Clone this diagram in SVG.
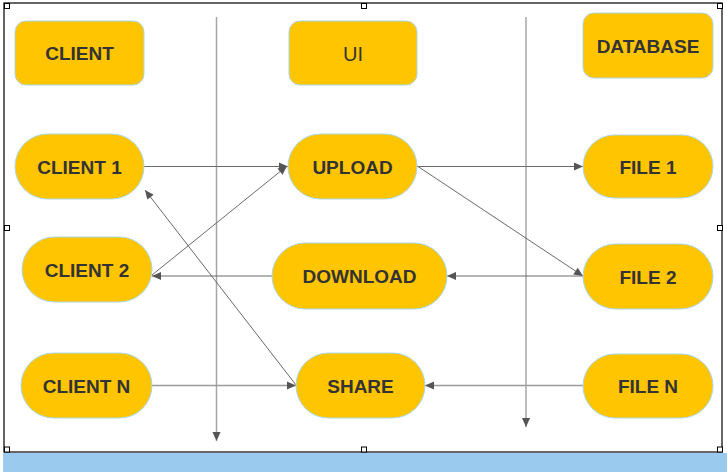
<svg xmlns="http://www.w3.org/2000/svg" width="727" height="472" viewBox="0 0 727 472">
  <style>
    .node { fill: #FFC500; stroke: #A9D8EC; stroke-width: 1; }
    .lbl { font-family: "Liberation Sans", Arial, sans-serif; font-size: 19px; font-weight: bold; fill: #333333; text-anchor: middle; }
    .lbl-n { font-family: "Liberation Sans", Arial, sans-serif; font-size: 20px; fill: #333333; text-anchor: middle; }
    .edge { fill: none; stroke: #6a6a6a; stroke-width: 1; }
    .edge-l { fill: none; stroke: #9a9a9a; stroke-width: 1.5; }
    .lane { fill: none; stroke: #a6a6a6; stroke-width: 1.5; }
    .handle { fill: #ffffff; stroke: #000000; stroke-width: 1; }
  </style>
  <defs>
    <marker id="arr" viewBox="0 0 10 10" refX="10" refY="5" markerWidth="10" markerHeight="9" markerUnits="userSpaceOnUse" orient="auto">
      <path d="M0,0.5 L10,5 L0,9.5 Z" fill="#555555"/>
    </marker>
  </defs>

  <!-- page background and frame -->
  <rect x="0" y="0" width="727" height="472" fill="#ffffff"/>
  <rect x="3" y="453" width="724" height="19" fill="#9ACBEE"/>
  <rect x="4" y="3" width="718" height="449" fill="none" stroke="#000000" stroke-width="1.2"/>

  <!-- swimlane dividers and connectors -->
  <g id="connectors">
    <line class="lane" x1="216.5" y1="17" x2="216.5" y2="441" marker-end="url(#arr)"/>
    <line class="lane" x1="526" y1="17" x2="526" y2="427" marker-end="url(#arr)"/>

    <line class="edge" x1="144" y1="166.5" x2="288" y2="166.5" marker-end="url(#arr)"/>
    <line class="edge" x1="152" y1="275" x2="287" y2="166" marker-end="url(#arr)"/>
    <line class="edge" x1="296" y1="385" x2="145" y2="190" marker-end="url(#arr)"/>
    <line class="edge" x1="272" y1="276" x2="152" y2="276" marker-end="url(#arr)"/>
    <line class="edge-l" x1="152" y1="385.5" x2="296" y2="385.5" marker-end="url(#arr)"/>

    <line class="edge" x1="417" y1="166.5" x2="583" y2="166.5" marker-end="url(#arr)"/>
    <line class="edge" x1="418" y1="166.5" x2="583" y2="276" marker-end="url(#arr)"/>
    <line class="edge" x1="583" y1="276" x2="447" y2="276" marker-end="url(#arr)"/>
    <line class="edge-l" x1="583" y1="385.5" x2="425" y2="385.5" marker-end="url(#arr)"/>
  </g>

  <!-- column headers -->
  <g id="client">
    <rect class="node" x="15" y="21" width="129" height="64" rx="11"/>
    <text class="lbl" x="79.5" y="60">CLIENT</text>
  </g>
  <g id="ui">
    <rect class="node" x="289" y="21" width="128" height="64" rx="11"/>
    <text class="lbl-n" x="353" y="60.5">UI</text>
  </g>
  <g id="database">
    <rect class="node" x="583" y="13" width="130" height="65" rx="11"/>
    <text class="lbl" x="648" y="53">DATABASE</text>
  </g>

  <!-- clients -->
  <g id="client1">
    <rect class="node" x="15" y="134" width="129" height="65" rx="32.5"/>
    <text class="lbl" x="79.5" y="173.5">CLIENT 1</text>
  </g>
  <g id="client2">
    <rect class="node" x="22" y="237" width="130" height="65" rx="32.5"/>
    <text class="lbl" x="87" y="276.5">CLIENT 2</text>
  </g>
  <g id="clientN">
    <rect class="node" x="21" y="353" width="131" height="65" rx="32.5"/>
    <text class="lbl" x="86.5" y="392.5">CLIENT N</text>
  </g>

  <!-- UI actions -->
  <g id="upload">
    <rect class="node" x="288" y="134" width="129" height="65" rx="32.5"/>
    <text class="lbl" x="352.5" y="173.5">UPLOAD</text>
  </g>
  <g id="download">
    <rect class="node" x="272" y="243" width="175" height="66" rx="33"/>
    <text class="lbl" x="359.5" y="283">DOWNLOAD</text>
  </g>
  <g id="share">
    <rect class="node" x="296" y="353" width="129" height="65" rx="32.5"/>
    <text class="lbl" x="360.5" y="392.5">SHARE</text>
  </g>

  <!-- files -->
  <g id="file1">
    <rect class="node" x="583" y="135" width="130" height="63" rx="31.5"/>
    <text class="lbl" x="648" y="173.5">FILE 1</text>
  </g>
  <g id="file2">
    <rect class="node" x="583" y="244" width="130" height="65" rx="32.5"/>
    <text class="lbl" x="648" y="283.5">FILE 2</text>
  </g>
  <g id="fileN">
    <rect class="node" x="583" y="354" width="130" height="64" rx="32"/>
    <text class="lbl" x="648" y="393">FILE N</text>
  </g>

  <!-- selection handles -->
  <g id="handles">
    <rect class="handle" x="4.5" y="3.5" width="5" height="5"/>
    <rect class="handle" x="361.5" y="3.5" width="5" height="5"/>
    <rect class="handle" x="717.5" y="3.5" width="5" height="5"/>
    <rect class="handle" x="4.5" y="225.5" width="5" height="5"/>
    <rect class="handle" x="717.5" y="225.5" width="5" height="5"/>
    <rect class="handle" x="4.5" y="447" width="5" height="5"/>
    <rect class="handle" x="361.5" y="447" width="5" height="5"/>
    <rect class="handle" x="717.5" y="447" width="5" height="5"/>
  </g>
</svg>
